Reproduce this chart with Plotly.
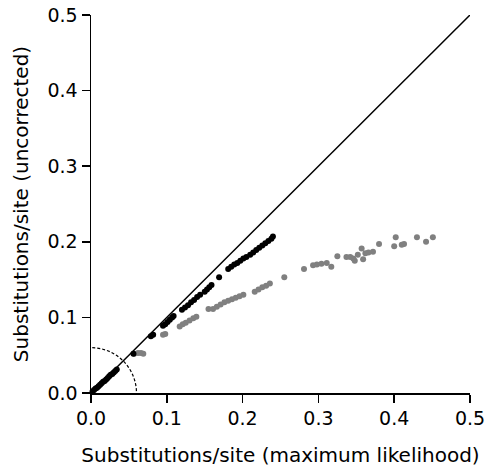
import plotly.graph_objects as go

# Black series (near-diagonal)
black_x = [0.002, 0.004, 0.006, 0.008, 0.010, 0.012, 0.014, 0.016, 0.018, 0.020, 0.022, 0.024,
           0.026, 0.028, 0.030, 0.032, 0.034,
           0.056, 0.079, 0.082,
           0.095, 0.098, 0.101, 0.104, 0.107, 0.109,
           0.120, 0.124, 0.128, 0.132, 0.136, 0.140, 0.144,
           0.150, 0.153, 0.156, 0.159,
           0.169,
           0.181, 0.185, 0.189, 0.193, 0.197, 0.201, 0.205,
           0.210, 0.214, 0.218, 0.222, 0.226, 0.230, 0.234, 0.238, 0.240]
black_y = [0.002, 0.004, 0.006, 0.007, 0.009, 0.011, 0.013, 0.015, 0.016, 0.018, 0.020, 0.022,
           0.024, 0.025, 0.027, 0.029, 0.031,
           0.052, 0.075, 0.077,
           0.089, 0.091, 0.094, 0.097, 0.100, 0.102,
           0.110, 0.113, 0.116, 0.120, 0.123, 0.127, 0.130,
           0.134, 0.137, 0.140, 0.143,
           0.153,
           0.164, 0.167, 0.170, 0.172, 0.175, 0.178, 0.180,
           0.183, 0.186, 0.189, 0.192, 0.195, 0.198, 0.201, 0.204, 0.207]

# Gray series (curving away)
gray_x = [0.057, 0.062, 0.066, 0.069,
          0.095, 0.098,
          0.117, 0.121, 0.125, 0.130, 0.135, 0.139,
          0.155,
          0.161, 0.166, 0.171, 0.176, 0.181, 0.186, 0.191, 0.196, 0.201,
          0.216, 0.221, 0.226, 0.231, 0.236,
          0.255, 0.281,
          0.293, 0.298, 0.304, 0.311,
          0.317, 0.325,
          0.337, 0.342, 0.346, 0.348, 0.352, 0.357, 0.359, 0.362, 0.366, 0.372,
          0.380,
          0.400, 0.402, 0.410, 0.413,
          0.430, 0.442, 0.451]
gray_y = [0.052, 0.053, 0.053, 0.052,
          0.077, 0.078,
          0.088, 0.091, 0.093, 0.096, 0.099, 0.101,
          0.111,
          0.111, 0.114, 0.117, 0.120, 0.122, 0.124, 0.126, 0.128, 0.130,
          0.134, 0.137, 0.140, 0.142, 0.145,
          0.153, 0.164,
          0.169, 0.170, 0.171, 0.172,
          0.167, 0.181,
          0.180, 0.180, 0.178, 0.175, 0.183, 0.191, 0.177, 0.185, 0.186, 0.187,
          0.197,
          0.194, 0.206, 0.196, 0.197,
          0.206, 0.200, 0.206]

tick_vals = [0.0, 0.1, 0.2, 0.3, 0.4, 0.5]
tick_text = ["0.0", "0.1", "0.2", "0.3", "0.4", "0.5"]
arc_radius = 0.06

fig = go.Figure()
fig.add_trace(go.Scatter(x=gray_x, y=gray_y, mode="markers",
                         marker=dict(color="#808080", size=6), showlegend=False, cliponaxis=False))
fig.add_trace(go.Scatter(x=black_x, y=black_y, mode="markers",
                         marker=dict(color="#000000", size=6), showlegend=False, cliponaxis=False))

fig.add_shape(type="line", x0=0, y0=0, x1=0.5, y1=0.5, xref="x", yref="y",
              line=dict(color="black", width=1.5))
fig.add_shape(type="circle", x0=-arc_radius, y0=-arc_radius, x1=arc_radius, y1=arc_radius,
              xref="x", yref="y", line=dict(color="black", width=1.2, dash="3px,2px"))

tick_font = dict(family="DejaVu Sans, sans-serif", size=19, color="black")
title_font = dict(family="DejaVu Sans, sans-serif", size=20, color="black")
axis_common = dict(range=[0, 0.5], showline=True, linecolor="black", linewidth=1.5,
                   ticks="outside", ticklen=8, tickwidth=1.5, tickcolor="black",
                   tickvals=tick_vals, ticktext=tick_text, showgrid=False, zeroline=False,
                   tickfont=tick_font, automargin=False)

fig.update_layout(
    width=487, height=467,
    margin=dict(l=91, r=17, t=15, b=74),
    plot_bgcolor="white", paper_bgcolor="white",
    font=tick_font,
    xaxis=dict(**axis_common,
               title=dict(text="Substitutions/site (maximum likelihood)", font=title_font, standoff=19)),
    yaxis=dict(**axis_common, ticklabelstandoff=0,
               title=dict(text="Substitutions/site (uncorrected)", font=title_font, standoff=13)),
)

fig.write_html("out.html",
               config={"displayModeBar": False, "staticPlot": True},
               post_script="document.body.style.margin='0';document.body.style.overflow='hidden';")
